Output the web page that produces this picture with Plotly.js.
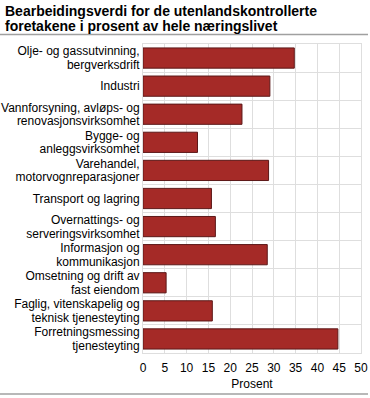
<!DOCTYPE html>
<html>
<head>
<meta charset="utf-8">
<script src="https://cdn.plot.ly/plotly-3.0.1.min.js"></script>
<style>html,body{margin:0;padding:0;background:#fff;}#chart{width:370px;height:398px;}</style>
</head>
<body>
<div id="chart"></div>
<script>
const titleLines = [
  "Bearbeidingsverdi for de utenlandskontrollerte",
  "foretakene i prosent av hele næringslivet"
];
const categories = [
  "Olje- og gassutvinning,<br>bergverksdrift",
  "Industri",
  "Vannforsyning, avløps- og<br>renovasjonsvirksomhet",
  "Bygge- og<br>anleggsvirksomhet",
  "Varehandel,<br>motorvognreparasjoner",
  "Transport og lagring",
  "Overnattings- og<br>serveringsvirksomhet",
  "Informasjon og<br>kommunikasjon",
  "Omsetning og drift av<br>fast eiendom",
  "Faglig, vitenskapelig og<br>teknisk tjenesteyting",
  "Forretningsmessing<br>tjenesteyting"
];
const values = [34.7, 29.1, 22.7, 12.5, 28.8, 15.7, 16.6, 28.5, 5.3, 15.9, 44.7];
const xTicks = [0, 5, 10, 15, 20, 25, 30, 35, 40, 45, 50];
const xTitle = "Prosent";

const font = "Liberation Sans, Arial, sans-serif";
const L = 143, R = 9, T = 44, B = 45;
const PW = 370 - L - R, PH = 398 - T - B;
const LS = 1.13;

const data = [{
  type: "bar",
  orientation: "h",
  y: categories,
  x: values,
  marker: {color: "#a52a27", line: {color: "#5c1818", width: 1}},
  hoverinfo: "x+y"
}];
const layout = {
  width: 370, height: 398,
  margin: {l: L, r: R, t: T, b: B},
  paper_bgcolor: "#fff", plot_bgcolor: "#fff",
  font: {family: font, size: 12, color: "#000"},
  showlegend: false,
  bargap: 0.28,
  xaxis: {
    range: [0, 50], tickvals: xTicks, ticktext: xTicks.map(String),
    showgrid: true, gridcolor: "#dedede", gridwidth: 1,
    zeroline: false, showline: true, linecolor: "#dedede", mirror: true,
    ticks: "", tickfont: {size: 12, color: "#000"}, ticklabelstandoff: 4,
    title: {text: xTitle, font: {size: 12, color: "#000"}, standoff: 5},
    fixedrange: true
  },
  yaxis: {
    type: "category", autorange: "reversed",
    tickson: "boundaries", showgrid: true, gridcolor: "#dedede", gridwidth: 1,
    showline: true, linecolor: "#dedede", mirror: true,
    ticks: "", ticklen: 0, tickfont: {size: 12, color: "#000"},
    fixedrange: true
  },
  annotations: titleLines.map((t, i) => ({
    text: "<b>" + t + "</b>", showarrow: false,
    xref: "paper", yref: "paper", x: -(L - 3) / PW, xanchor: "left",
    y: 1 + (T - (11 + i * 15.5)) / PH, yanchor: "middle",
    font: {family: font, size: 14, color: "#000"}
  })),
  shapes: [
    {type: "line", xref: "paper", yref: "paper", x0: -L / PW, x1: 1 + (R - 2) / PW, y0: 1 + 9.5 / PH, y1: 1 + 9.5 / PH,
     line: {color: "#a0a0a0", width: 1.5}},
    {type: "line", xref: "paper", yref: "paper", x0: -L / PW, x1: 1 + (R - 2) / PW, y0: -41 / PH, y1: -41 / PH,
     line: {color: "#a0a0a0", width: 1.5}}
  ]
};
Plotly.newPlot("chart", data, layout, {displayModeBar: false, staticPlot: true}).then(gd => {
  // tighten line spacing of multi-line category labels
  gd.querySelectorAll(".ytick text").forEach(txt => {
    const lines = txt.querySelectorAll("tspan.line");
    if (lines.length < 2) return;
    const n = lines.length;
    lines.forEach(ts => {
      const dy = ts.getAttribute("dy");
      if (dy && dy.indexOf("em") > 0) {
        ts.setAttribute("dy", (parseFloat(dy) * LS / 1.3) + "em");
      }
    });
    const shift = (n - 1) * (1.3 - LS) / 2 * 12;
    const prev = txt.getAttribute("transform") || "";
    txt.setAttribute("transform", prev + " translate(0," + shift + ")");
  });
});
</script>
</body>
</html>
